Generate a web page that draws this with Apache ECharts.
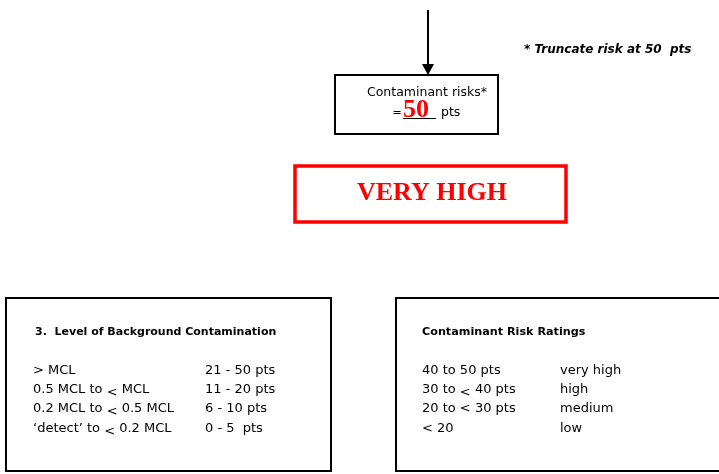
<!DOCTYPE html>
<html>
<head>
<meta charset="utf-8">
<script src="https://cdn.jsdelivr.net/npm/echarts@6/dist/echarts.min.js"></script>
<style>
html, body { margin: 0; padding: 0; background: #fff; }
#main { width: 719px; height: 474px; }
</style>
</head>
<body>
<div id="main"></div>
<script>
// texts of the diagram
var scoreLabel = "Contaminant risks*";
var scoreValue = "50";
var ratingText = "VERY HIGH";
var noteText = "* Truncate risk at 50  pts";

var levelTitle = "3.  Level of Background Contamination";
var levelRanges = ["> MCL", "0.5 MCL to {lt|<} MCL", "0.2 MCL to {lt|<} 0.5 MCL", "\u2018detect\u2019 to {lt|<} 0.2 MCL"];
var levelPoints = ["21 - 50 pts", "11 - 20 pts", "6 - 10 pts", "0 - 5  pts"];

var ratingTitle = "Contaminant Risk Ratings";
var ratingRanges = ["40 to 50 pts", "30 to {lt|<} 40 pts", "20 to < 30 pts", "< 20"];
var ratingNames = ["very high", "high", "medium", "low"];

var sans = "DejaVu Sans";
var serif = "Liberation Serif";
var fs = 13;
var rowY = [371, 390, 409, 429];

var myChart = echarts.init(document.getElementById('main'));

function txt(x, y, s, opt) {
    var style = {
        x: x, y: y, text: s,
        fill: '#000',
        font: (opt && opt.font) || (fs + 'px "' + sans + '"'),
        align: (opt && opt.align) || 'left',
        verticalAlign: 'middle',
        rich: {
            lt: { fontSize: fs, fontFamily: sans, padding: [6, 0, 0, 0], verticalAlign: 'bottom' }
        }
    };
    if (opt && opt.fill) style.fill = opt.fill;
    return { type: 'text', style: style };
}

var elements = [];

// arrow
elements.push({ type: 'line', shape: { x1: 428, y1: 10, x2: 428, y2: 66 }, style: { stroke: '#000', lineWidth: 2 } });
elements.push({ type: 'polygon', shape: { points: [[422, 64], [434, 64], [428, 75]] }, style: { fill: '#000' } });

// score box
elements.push({ type: 'rect', shape: { x: 335, y: 75, width: 163, height: 59 }, style: { fill: 'none', stroke: '#000', lineWidth: 2 } });
elements.push(txt(427, 93, scoreLabel, { align: 'center', font: '12.5px "' + sans + '"' }));
elements.push(txt(397, 113, "=", { align: 'center', font: '11px "' + sans + '"' }));
elements.push(txt(416, 110, scoreValue, { align: 'center', fill: '#ff0000', font: 'bold 26px "' + serif + '"' }));
elements.push({ type: 'line', shape: { x1: 403, y1: 118.5, x2: 436, y2: 118.5 }, style: { stroke: '#000', lineWidth: 1 } });
elements.push(txt(441, 113, "pts", { font: '12.5px "' + sans + '"' }));

// note
elements.push(txt(524, 50, noteText, { font: 'italic bold 12px "' + sans + '"' }));

// rating box
elements.push({ type: 'rect', shape: { x: 295, y: 166, width: 271, height: 56 }, style: { fill: 'none', stroke: '#ff0000', lineWidth: 3.5 } });
elements.push(txt(432, 193, ratingText, { align: 'center', fill: '#ff0000', font: 'bold 26px "' + serif + '"' }));

// left table
elements.push({ type: 'rect', shape: { x: 6, y: 298, width: 325, height: 173 }, style: { fill: 'none', stroke: '#000', lineWidth: 2 } });
elements.push(txt(35, 332, levelTitle, { font: 'bold 11px "' + sans + '"' }));
for (var i = 0; i < levelRanges.length; i++) {
    elements.push(txt(33, rowY[i], levelRanges[i]));
    elements.push(txt(205, rowY[i], levelPoints[i]));
}

// right table
elements.push({ type: 'rect', shape: { x: 396, y: 298, width: 330, height: 173 }, style: { fill: 'none', stroke: '#000', lineWidth: 2 } });
elements.push(txt(422, 332, ratingTitle, { font: 'bold 11.2px "' + sans + '"' }));
for (var j = 0; j < ratingRanges.length; j++) {
    elements.push(txt(422, rowY[j], ratingRanges[j]));
    elements.push(txt(560, rowY[j], ratingNames[j]));
}

var option = {
    animation: false,
    backgroundColor: '#fff',
    graphic: { elements: elements }
};
myChart.setOption(option);
</script>
</body>
</html>
